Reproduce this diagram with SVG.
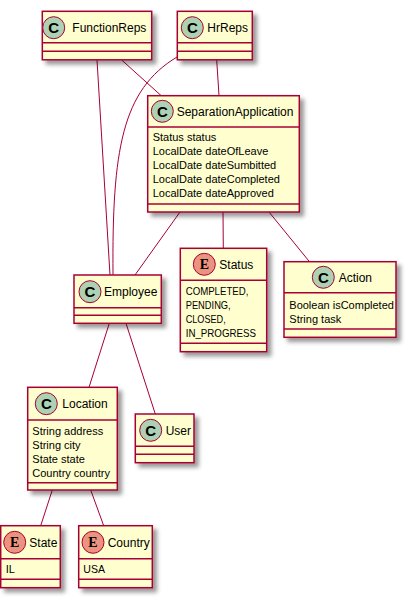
<svg xmlns="http://www.w3.org/2000/svg" width="407" height="598" viewBox="0 0 407 598">
<defs>
<filter id="sh" x="-1" y="-1" width="300%" height="300%"><feGaussianBlur result="b" stdDeviation="2"/><feColorMatrix in="b" result="b2" type="matrix" values="0 0 0 0 0 0 0 0 0 0 0 0 0 0 0 0 0 0 .4 0"/><feOffset dx="4" dy="4" in="b2" result="b3"/><feBlend in="SourceGraphic" in2="b3" mode="normal"/></filter>
</defs>
<style>
.box{fill:#FEFECE;stroke:#A80036;stroke-width:1.5;filter:url(#sh)}
.sep{stroke:#A80036;stroke-width:1.5}
.cc{fill:#ADD1B2;stroke:#A80036;stroke-width:1}
.ce{fill:#EB937F;stroke:#A80036;stroke-width:1}
.cl{font-family:"Liberation Sans",Arial,sans-serif;font-weight:bold;font-size:15px;fill:#000;text-anchor:middle}
.el{font-family:"Liberation Serif",serif;font-weight:bold;font-size:14px;fill:#000;text-anchor:middle}
.nm{font-family:"Liberation Sans",Arial,sans-serif;font-size:12px;fill:#000}
.at{font-family:"Liberation Sans",Arial,sans-serif;font-size:11px;fill:#000}
.edge{fill:none;stroke:#A80036;stroke-width:1}
</style>
<g id="connectors">
<path class="edge" d="M97,60 L110,275"/>
<path class="edge" d="M177,57 C122,90 112,150 113,275"/>
<path class="edge" d="M216.7,60 L219,95.5"/>
<path class="edge" d="M121.7,60 L161,95.5"/>
<path class="edge" d="M180,212 L135,275"/>
<path class="edge" d="M223,212 L223.3,248.5"/>
<path class="edge" d="M269,212 L309.3,261.5"/>
<path class="edge" d="M109.3,323.3 L89,387.3"/>
<path class="edge" d="M126,323.3 L155.3,414"/>
<path class="edge" d="M52.3,490 L40.7,525.7"/>
<path class="edge" d="M90.7,490 L103.7,525.7"/>
</g>
<g id="FunctionReps">
<rect class="box" x="42.3" y="11.3" width="109.4" height="48.5"/>
<line class="sep" x1="42.3" y1="42.7" x2="151.7" y2="42.7"/>
<line class="sep" x1="42.3" y1="51.3" x2="151.7" y2="51.3"/>
<circle class="cc" cx="53.7" cy="27.7" r="11"/>
<text class="cl" x="53.7" y="33">C</text>
<text class="nm" x="72.3" y="32">FunctionReps</text>
</g>
<g id="HrReps">
<rect class="box" x="177.3" y="11.3" width="75" height="48.5"/>
<line class="sep" x1="177.3" y1="42.7" x2="252.3" y2="42.7"/>
<line class="sep" x1="177.3" y1="51.3" x2="252.3" y2="51.3"/>
<circle class="cc" cx="192.3" cy="27.7" r="11"/>
<text class="cl" x="192.3" y="33">C</text>
<text class="nm" x="207.3" y="32">HrReps</text>
</g>
<g id="SeparationApplication">
<rect class="box" x="147.7" y="95.7" width="151.6" height="116.3"/>
<line class="sep" x1="147.7" y1="127" x2="299.3" y2="127"/>
<line class="sep" x1="147.7" y1="204" x2="299.3" y2="204"/>
<circle class="cc" cx="162.3" cy="111.3" r="11"/>
<text class="cl" x="162.3" y="116.6">C</text>
<text class="nm" x="176.7" y="116">SeparationApplication</text>
<text class="at" x="152.7" y="140.7">Status status</text>
<text class="at" x="152.7" y="154.7">LocalDate dateOfLeave</text>
<text class="at" x="152.7" y="168.7">LocalDate dateSumbitted</text>
<text class="at" x="152.7" y="182.7">LocalDate dateCompleted</text>
<text class="at" x="152.7" y="196.7">LocalDate dateApproved</text>
</g>
<g id="Employee">
<rect class="box" x="74" y="275" width="87.3" height="48.3"/>
<line class="sep" x1="74" y1="307.7" x2="161.3" y2="307.7"/>
<line class="sep" x1="74" y1="315.3" x2="161.3" y2="315.3"/>
<circle class="cc" cx="90" cy="291.7" r="11"/>
<text class="cl" x="90" y="297">C</text>
<text class="nm" x="104" y="296">Employee</text>
</g>
<g id="Status">
<rect class="box" x="180.3" y="248.3" width="86.4" height="103.4"/>
<line class="sep" x1="180.3" y1="280.3" x2="266.7" y2="280.3"/>
<line class="sep" x1="180.3" y1="343.3" x2="266.7" y2="343.3"/>
<circle class="ce" cx="204.3" cy="264.3" r="11"/>
<text class="el" x="204.3" y="269.3">E</text>
<text class="nm" x="219.3" y="269">Status</text>
<text class="at" x="185.7" y="295" textLength="62.7" lengthAdjust="spacingAndGlyphs">COMPLETED,</text>
<text class="at" x="185.7" y="309" textLength="45" lengthAdjust="spacingAndGlyphs">PENDING,</text>
<text class="at" x="185.7" y="323" textLength="40" lengthAdjust="spacingAndGlyphs">CLOSED,</text>
<text class="at" x="185.7" y="337" textLength="70.3" lengthAdjust="spacingAndGlyphs">IN_PROGRESS</text>
</g>
<g id="Action">
<rect class="box" x="284" y="261.7" width="112" height="75.6"/>
<line class="sep" x1="284" y1="292.7" x2="396" y2="292.7"/>
<line class="sep" x1="284" y1="329" x2="396" y2="329"/>
<circle class="cc" cx="323.3" cy="277.3" r="11"/>
<text class="cl" x="323.3" y="282.6">C</text>
<text class="nm" x="338.7" y="282">Action</text>
<text class="at" x="289.3" y="308.7">Boolean isCompleted</text>
<text class="at" x="289.3" y="322.7">String task</text>
</g>
<g id="Location">
<rect class="box" x="27.7" y="387.3" width="89.6" height="102.7"/>
<line class="sep" x1="27.7" y1="420" x2="117.3" y2="420"/>
<line class="sep" x1="27.7" y1="482.7" x2="117.3" y2="482.7"/>
<circle class="cc" cx="46.3" cy="403.7" r="11"/>
<text class="cl" x="46.3" y="409">C</text>
<text class="nm" x="62.3" y="408">Location</text>
<text class="at" x="32.3" y="434.5">String address</text>
<text class="at" x="32.3" y="448.5">String city</text>
<text class="at" x="32.3" y="462.5">State state</text>
<text class="at" x="32.3" y="476.5">Country country</text>
</g>
<g id="User">
<rect class="box" x="135.3" y="414" width="58.7" height="48.7"/>
<line class="sep" x1="135.3" y1="446.3" x2="194" y2="446.3"/>
<line class="sep" x1="135.3" y1="454.3" x2="194" y2="454.3"/>
<circle class="cc" cx="150.7" cy="430.3" r="11"/>
<text class="cl" x="150.7" y="435.6">C</text>
<text class="nm" x="165.7" y="435">User</text>
</g>
<g id="State">
<rect class="box" x="0.7" y="525.7" width="59.6" height="62"/>
<line class="sep" x1="0.7" y1="558.7" x2="60.3" y2="558.7"/>
<line class="sep" x1="0.7" y1="579.3" x2="60.3" y2="579.3"/>
<circle class="ce" cx="14.7" cy="542.3" r="11"/>
<text class="el" x="14.7" y="547.3">E</text>
<text class="nm" x="29.3" y="547">State</text>
<text class="at" x="5.7" y="573">IL</text>
</g>
<g id="Country">
<rect class="box" x="78.7" y="525.7" width="73.6" height="62"/>
<line class="sep" x1="78.7" y1="558.7" x2="152.3" y2="558.7"/>
<line class="sep" x1="78.7" y1="579.3" x2="152.3" y2="579.3"/>
<circle class="ce" cx="93" cy="542.3" r="11"/>
<text class="el" x="93" y="547.3">E</text>
<text class="nm" x="107.7" y="547">Country</text>
<text class="at" x="83.3" y="573" textLength="21.7" lengthAdjust="spacingAndGlyphs">USA</text>
</g>
</svg>
